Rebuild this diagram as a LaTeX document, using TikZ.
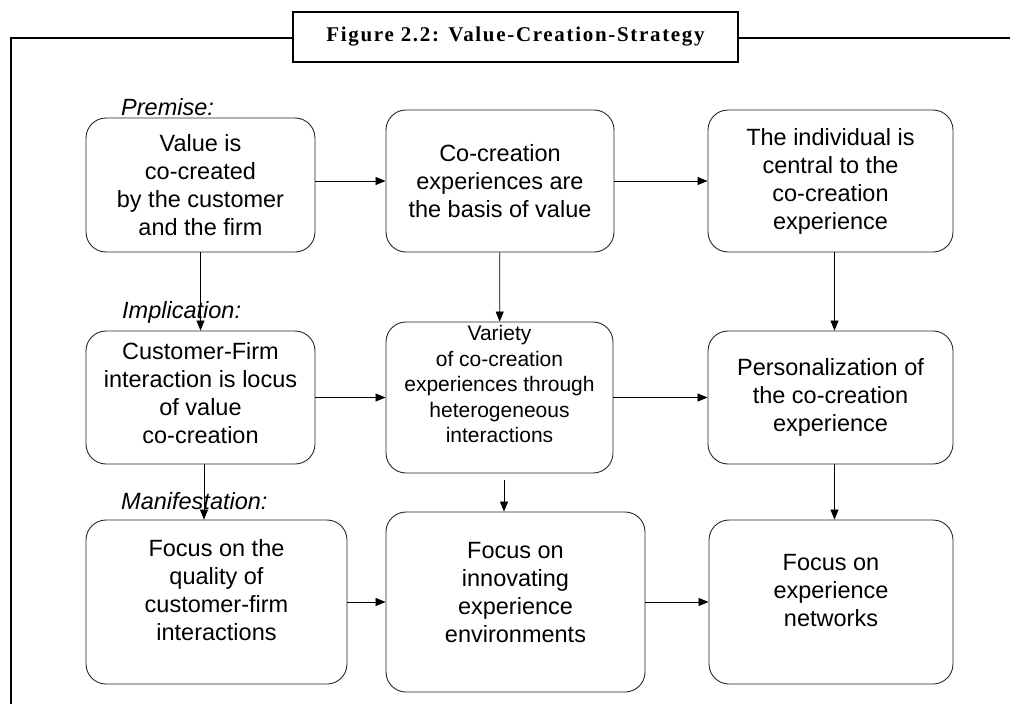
\documentclass[tikz,border=0pt]{standalone}
\usepackage{fontspec}
\setmainfont{Liberation Sans}
\newfontfamily\titlefont[LetterSpace=8]{Liberation Serif}
\usetikzlibrary{arrows.meta}

\tikzset{
  strategy/.style={
    x=1pt, y=-1pt,
    box/.style={
        draw=black!85,
        line width=0.9pt,
        rounded corners=20pt,
        align=center,
        inner sep=2pt,
        font=\fontsize{23.5}{28}\selectfont,
    },
    phase/.style={
        anchor=west,
        inner sep=0pt,
        font=\fontsize{23.5}{28}\selectfont\itshape,
    },
    flow/.style={
        draw=black,
        line width=0.8pt,
        -{Triangle[length=10pt,width=8pt]},
    },
    rim/.style={
        line width=2.6pt,
    },
  }
}

\begin{document}
\begin{tikzpicture}[strategy]
            \useasboundingbox (0,0) rectangle (1010,704);
            \draw[rim] (293,38) -- (11,38) -- (11,704);
            \draw[rim] (738,38) -- (1010,38);
            \node[rim, draw, minimum width=445pt, minimum height=50pt,
                font=\titlefont\bfseries\fontsize{21}{23}\selectfont] (title) at (515.5,37)
                {Figure 2.2: Value-Creation-Strategy};

            \node[phase] (premise) at (121,107) {Premise:};
            \node[phase] (implication) at (122,312) {Implication:};
            \node[phase] (manifest) at (121,501) {Manifestation:};

            \node[box, minimum width=229pt, minimum height=134pt] (value) at (200.5,185)
                {Value is\\co-created\\by the customer\\and the firm};
            \node[box, minimum width=228pt, minimum height=142pt] (basis) at (500,181)
                {Co-creation\\experiences are\\the basis of value};
            \node[box, minimum width=245pt, minimum height=142pt] (individual) at (830.5,181)
                {The individual is\\central to the\\co-creation\\experience};

            \node[box, minimum width=229pt, minimum height=133pt] (locus) at (200.5,397.5)
                {Customer-Firm\\interaction is locus\\of value\\co-creation\\[-19pt]};
            \node[box, minimum width=227pt, minimum height=151pt,
                font=\fontsize{21}{25.5}\selectfont] (variety) at (499.5,397.5)
                {Variety\\of co-creation\\experiences through\\heterogeneous\\interactions\\[1.5pt]};
            \node[box, minimum width=245pt, minimum height=133pt] (personal) at (830.5,397.5)
                {Personalization of\\the co-creation\\experience};

            \node[box, minimum width=261pt, minimum height=164pt] (quality) at (216.5,602)
                {Focus on the\\quality of\\customer-firm\\interactions\\[-4pt]};
            \node[box, minimum width=259pt, minimum height=180pt] (innovate) at (515.5,602)
                {Focus on\\innovating\\experience\\environments\\[-8pt]};
            \node[box, minimum width=244pt, minimum height=164pt] (networks) at (831,602)
                {Focus on\\experience\\networks\\[-4pt]};

            \draw[flow] (value.east |- basis.west) -- (basis.west);
            \draw[flow] (basis) -- (individual);
            \draw[flow] (value) -- (locus);
            \draw[flow] (basis) -- (variety);
            \draw[flow] ([xshift=4pt]individual.south) -- ([xshift=4pt]personal.north);

            \draw[flow] (locus) -- (variety);
            \draw[flow] (variety) -- (personal);
            \draw[flow] ([xshift=3.5pt]locus.south) -- ([xshift=3.5pt]locus.south |- quality.north);
            \draw[flow] ([xshift=4.5pt,yshift=-7pt]variety.south) -- ([xshift=4.5pt]variety.south |- innovate.north);
            \draw[flow] ([xshift=4pt]personal.south) -- ([xshift=4pt]personal.south |- networks.north);

            \draw[flow] (quality) -- (innovate);
            \draw[flow] (innovate) -- (networks);
        \end{tikzpicture}
\end{document}
